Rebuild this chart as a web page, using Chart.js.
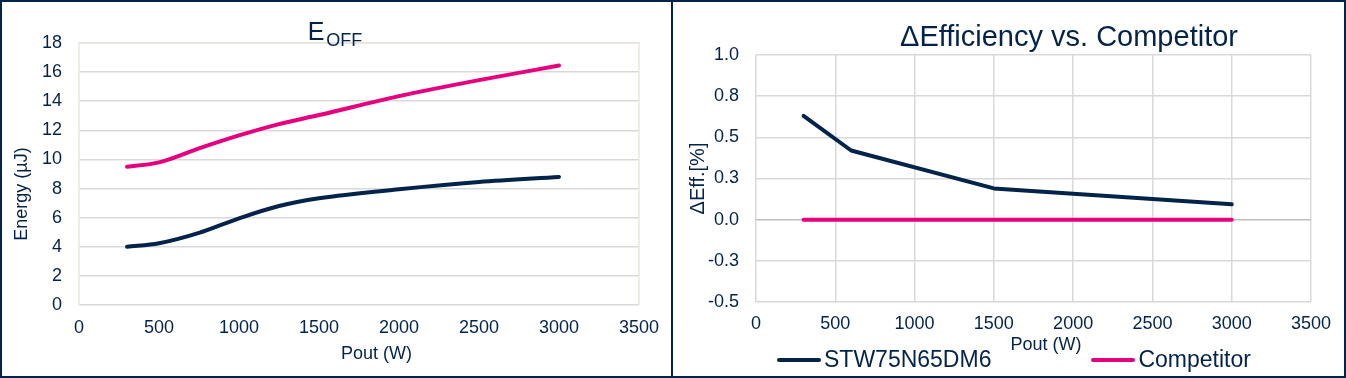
<!DOCTYPE html>
<html>
<head>
<meta charset="utf-8">
<script src="https://cdn.jsdelivr.net/npm/chart.js@4.4.1/dist/chart.umd.min.js"></script>
<style>
  html, body { margin: 0; padding: 0; background: #fff; }
  #frame {
    width: 1346px; height: 378px; box-sizing: border-box;
    border: 2px solid #03234b; display: flex;
    font-family: "Liberation Sans", Arial, sans-serif; color: #03234b;
  }
  .panel { position: relative; height: 374px; }
  #left { width: 669px; }
  #right { width: 671px; border-left: 2px solid #03234b; }
  .panel canvas { position: absolute; left: 0; top: 0; }
  .title { position: absolute; white-space: nowrap; line-height: 1; transform: translateX(-50%); }
  #title-left { left: 333px; top: 17px; font-size: 25px; }
  #title-left span { font-size: 18px; position: relative; top: 6px; margin-left: 2px; }
  #title-right { left: 396px; top: 20px; font-size: 29px; }
  #legend { position: absolute; left: 104px; top: 346px; display: flex; align-items: center; font-size: 23px; line-height: 1; }
  #legend .item { display: flex; align-items: center; white-space: nowrap; }
  #legend .item + .item { margin-left: 100px; }
  #legend .swatch { display: inline-block; width: 44px; height: 4px; border-radius: 2px; margin-right: 3px; }
</style>
</head>
<body>
<div id="frame">
  <div class="panel" id="left">
    <canvas id="chart-eoff" width="669" height="374"></canvas>
    <div class="title" id="title-left">E<span>OFF</span></div>
  </div>
  <div class="panel" id="right">
    <canvas id="chart-deff" width="671" height="374"></canvas>
    <div class="title" id="title-right">ΔEfficiency vs. Competitor</div>
    <div id="legend"></div>
  </div>
</div>
<script>
const NAVY = "#03234b";
const PINK = "#e6007e";
const GRID = "#d9d9d9";

const SERIES_NAMES = ["STW75N65DM6", "Competitor"];
const SERIES_COLORS = [NAVY, PINK];

// E_OFF (µJ) vs output power
const POUT_EOFF = [300, 500, 750, 1000, 1250, 1500, 2000, 2500, 3000];
const EOFF_ST = [4.0, 4.24, 4.95, 5.95, 6.8, 7.33, 7.95, 8.45, 8.8];
const EOFF_COMP = [9.5, 9.8, 10.76, 11.65, 12.43, 13.05, 14.35, 15.45, 16.45];

// efficiency delta (%) vs output power
const POUT_EFF = [300, 600, 1500, 3000];
const DEFF_ST = [0.63, 0.42, 0.19, 0.093];
const DEFF_COMP = [0, 0, 0, 0];

// nbsp padding pushes axis titles off-centre like the original
const pad = (n) => "\u00a0".repeat(n);

Chart.defaults.font.family = '"Liberation Sans", Arial, sans-serif';
Chart.defaults.font.size = 18;
Chart.defaults.color = NAVY;

const points = (xs, ys) => xs.map((x, i) => ({ x, y: ys[i] }));

function series(i, xs, ys, smooth) {
  return {
    label: SERIES_NAMES[i],
    data: points(xs, ys),
    borderColor: SERIES_COLORS[i],
    backgroundColor: SERIES_COLORS[i],
    borderWidth: 4,
    borderCapStyle: "round",
    borderJoinStyle: "round",
    pointRadius: 0,
    cubicInterpolationMode: smooth ? "monotone" : "default",
    tension: 0,
    fill: false,
  };
}

// beige frame round the plot area (top, left, right)
const plotFrame = {
  id: "plotFrame",
  beforeDatasetsDraw(chart, args, opts) {
    if (!opts.color) return;
    const { ctx, chartArea: a } = chart;
    ctx.save();
    ctx.strokeStyle = opts.color;
    ctx.lineWidth = 1.5;
    ctx.beginPath();
    ctx.moveTo(a.left, a.bottom);
    ctx.lineTo(a.left, a.top);
    ctx.lineTo(a.right, a.top);
    ctx.lineTo(a.right, a.bottom);
    ctx.stroke();
    ctx.restore();
  },
};

const X_AXIS = (height, tickPad, titleText) => ({
  type: "linear",
  min: 0, max: 3500,
  ticks: { stepSize: 500, autoSkip: false, maxRotation: 0, padding: tickPad, callback: (v) => String(v) },
  title: { display: true, text: titleText, padding: 0 },
  afterFit: (s) => { s.height = height; },
});

new Chart(document.getElementById("chart-eoff"), {
  type: "line",
  data: {
    datasets: [
      series(0, POUT_EOFF, EOFF_ST, true),
      series(1, POUT_EOFF, EOFF_COMP, true),
    ],
  },
  plugins: [plotFrame],
  options: {
    responsive: false,
    animation: false,
    layout: { padding: { top: 41, right: 31, bottom: 11, left: 0 } },
    scales: {
      x: {
        ...X_AXIS(60, 12, pad(7) + "Pout (W)"),
        grid: { display: false, drawTicks: false },
        border: { display: false },
      },
      y: {
        min: 0, max: 18,
        ticks: { stepSize: 2, padding: 17 },
        grid: { color: GRID, lineWidth: 1.5, drawTicks: false },
        border: { display: false },
        title: { display: true, text: "Energy (µJ)" + pad(8), padding: { top: 9 } },
        afterFit: (s) => { s.width = 77; },
      },
    },
    plugins: {
      legend: { display: false },
      tooltip: { enabled: false },
      plotFrame: { color: "#ebe7dd" },
    },
  },
});

const deff = new Chart(document.getElementById("chart-deff"), {
  type: "line",
  data: {
    datasets: [
      series(0, POUT_EFF, DEFF_ST, false),
      series(1, POUT_EFF, DEFF_COMP, false),
    ],
  },
  options: {
    responsive: false,
    animation: false,
    layout: { padding: { top: 53, right: 33, bottom: 20, left: 0 } },
    scales: {
      x: {
        ...X_AXIS(54, 11, pad(5) + "Pout (W)"),
        grid: { color: GRID, lineWidth: 1.5, drawTicks: false },
        border: { display: false },
      },
      y: {
        min: -0.5, max: 1.0,
        ticks: { stepSize: 0.25, padding: 17, callback: (v) => v.toFixed(1) },
        grid: {
          color: (c) => (c.tick && c.tick.value === 0 ? "#bfbfbf" : GRID),
          lineWidth: 1.5,
          drawTicks: false,
        },
        border: { display: false },
        title: { display: true, text: "ΔEff.[%]", font: { size: 20 }, padding: { top: 13 } },
        afterFit: (s) => { s.width = 83; },
      },
    },
    plugins: {
      legend: { display: false },
      tooltip: { enabled: false },
    },
  },
});

// html legend built from the datasets
const legendEl = document.getElementById("legend");
deff.data.datasets.forEach((ds) => {
  const item = document.createElement("div");
  item.className = "item";
  const sw = document.createElement("span");
  sw.className = "swatch";
  sw.style.background = ds.borderColor;
  item.appendChild(sw);
  item.appendChild(document.createTextNode(ds.label));
  legendEl.appendChild(item);
});
</script>
</body>
</html>
